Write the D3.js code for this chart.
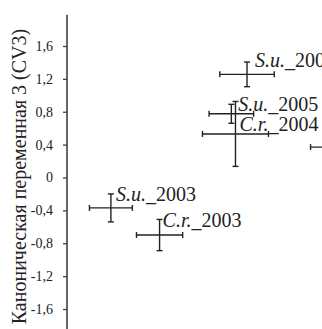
<!DOCTYPE html>
<html><head><meta charset="utf-8">
<script src="https://cdn.jsdelivr.net/npm/d3@7/dist/d3.min.js"></script>
<style>
@font-face { font-family: "RefSerif"; src: local("Liberation Serif"), local("LiberationSerif"), local("Tinos"); font-style: normal; }
@font-face { font-family: "RefSerif"; src: local("Liberation Serif Italic"), local("LiberationSerif-Italic"), local("Tinos Italic"); font-style: italic; }
</style>
</head>
<body style="margin:0">
<div id="chart"></div>
<script>
// Data
const taxa    = ["S.u.", "S.u.", "C.r.", "S.u.", "C.r.", "C.r."];
const years   = ["2006", "2005", "2004", "2003", "2003", "2005"];
const cv3     = [1.255, 0.775, 0.53, -0.37, -0.70, 0.37];   // y centre
const cv3Err  = [0.15, 0.115, 0.395, 0.17, 0.19, 0.30];
const cv2     = [0.57, 0.38, 0.43, -1.08, -0.49, 1.76];     // x centre (off-chart axis)
const cv2Err  = [0.33, 0.27, 0.40, 0.26, 0.28, 0.42];
const yTicks  = [1.6, 1.2, 0.8, 0.4, 0, -0.4, -0.8, -1.2, -1.6];
const yTitle  = "Каноническая переменная 3 (CV3)";

// layout (label offsets in px, not data)
const labelOffsets = [[8,-7],[7,-3],[4,-3],[5,-7],[3,-8],[6,-6]];

const W = 322, H = 329;
const svg = d3.select("#chart").append("svg").attr("width", W).attr("height", H)
  .style("display", "block");

const FAM = `"Liberation Serif", "RefSerif", "Tinos", "FreeSerif", "Times New Roman", serif`;
function serif(sel, size) {
  return sel.attr("font-family", FAM).style("font-family", FAM).style("font-size", size + "px");
}

const y = d3.scaleLinear().domain([-2, 2]).range([341.9, 13.1]);
const x = d3.scaleLinear().domain([-2, 2]).range([35, 365]);
const axisX = 67;

// axis
const ax = svg.append("g").attr("transform", `translate(${axisX},0)`)
  .call(d3.axisLeft(y).tickValues(yTicks).tickSize(4).tickSizeOuter(0).tickPadding(10)
    .tickFormat(d => d === 0 ? "0" : d.toFixed(1).replace(".", ",")));
ax.select(".domain").remove();
serif(ax, 14);
ax.selectAll(".tick line").attr("stroke", "#404040").attr("stroke-width", 1.3);
serif(ax.selectAll(".tick text"), 14).attr("fill", "#222");
svg.append("line").attr("x1", axisX).attr("x2", axisX).attr("y1", y(1.98)).attr("y2", H)
  .attr("stroke", "#404040").attr("stroke-width", 1.6);

// title
serif(svg.append("text"), 20)
  .attr("transform", `translate(26,${y(0) - 1}) rotate(-90)`)
  .attr("text-anchor", "middle")
  .attr("fill", "#222")
  .text(yTitle);

// error crosses
const pts = taxa.map((t, i) => ({t, yr: years[i], cy: cv3[i], ey: cv3Err[i], cx: cv2[i], ex: cv2Err[i], off: labelOffsets[i]}));
const cap = 3;
const g = svg.append("g").attr("stroke", "#222").attr("stroke-width", 1.4).attr("fill", "none");
pts.forEach(p => {
  const px = x(p.cx), py = y(p.cy);
  const x0 = x(p.cx - p.ex), x1 = x(p.cx + p.ex);
  const y0 = y(p.cy + p.ey), y1 = y(p.cy - p.ey);
  g.append("line").attr("x1", x0).attr("x2", x1).attr("y1", py).attr("y2", py);
  g.append("line").attr("x1", x0).attr("x2", x0).attr("y1", py - cap).attr("y2", py + cap);
  g.append("line").attr("x1", x1).attr("x2", x1).attr("y1", py - cap).attr("y2", py + cap);
  g.append("line").attr("x1", px).attr("x2", px).attr("y1", y0).attr("y2", y1);
  g.append("line").attr("x1", px - cap).attr("x2", px + cap).attr("y1", y0).attr("y2", y0);
  g.append("line").attr("x1", px - cap).attr("x2", px + cap).attr("y1", y1).attr("y2", y1);
  const tx = serif(svg.append("text"), 20).attr("x", px + p.off[0]).attr("y", py + p.off[1])
    .attr("fill", "#222");
  tx.append("tspan").style("font-style", "italic").text(p.t);
  tx.append("tspan").text("_" + p.yr);
});
</script>
</body></html>
